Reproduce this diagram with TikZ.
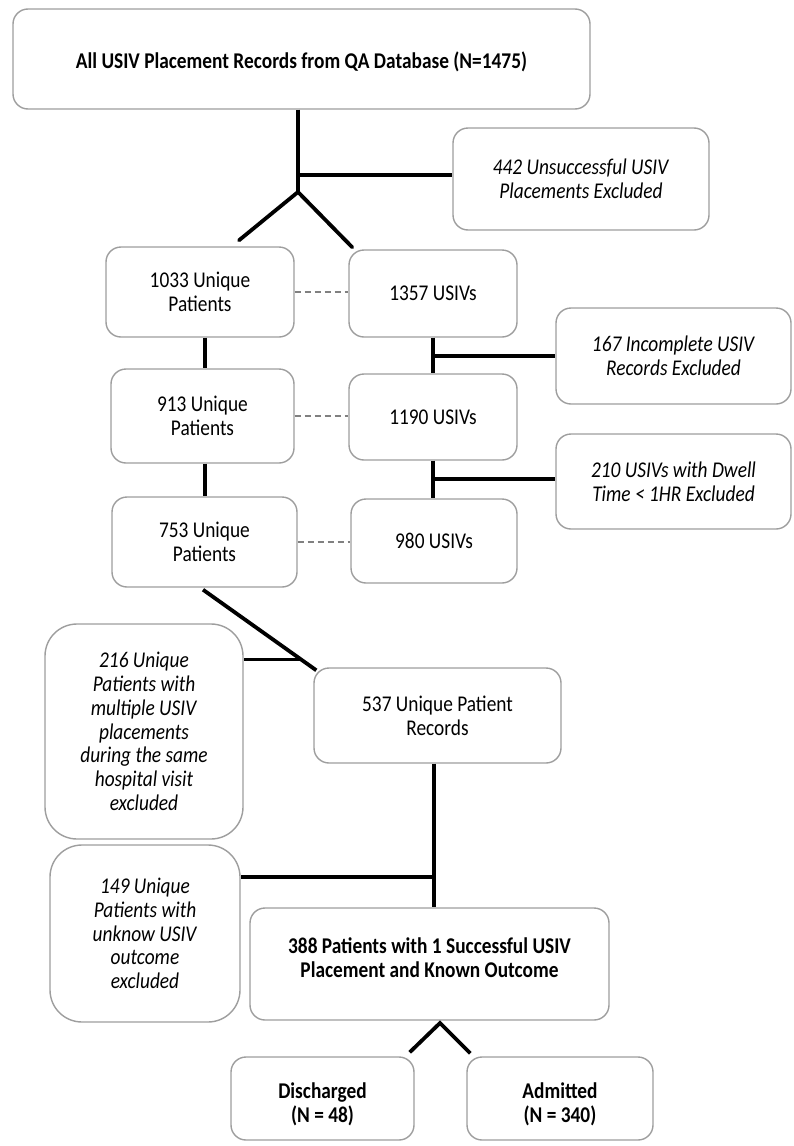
\documentclass[tikz,border=0pt]{standalone}
\usepackage{fontspec}
\setmainfont{Carlito}[FakeStretch=0.86]
\usetikzlibrary{calc}
\tikzset{
  box/.style={draw=black!38, line width=1.4pt, fill=white, rounded corners=15pt,
    align=center, inner sep=0pt, font=\fontsize{22.5}{23.8}\selectfont},
  bigbox/.style={box, rounded corners=32pt},
  txt/.style={align=center, inner sep=0pt, font=\fontsize{22.5}{23.8}\selectfont},
  conn/.style={line width=3.8pt, line cap=butt},
  link/.style={draw=black!50, line width=1.3pt, dash pattern=on 6pt off 4pt}
}
\begin{document}
\begin{tikzpicture}[x=1pt,y=-1pt]
\useasboundingbox (0,0) rectangle (793,1146);
% boxes
\node[box, minimum width=577pt, minimum height=100pt] (top) at (301.5,59) {};
\node[txt] (topt) at (301.5,62) {\textbf{All USIV Placement Records from QA Database (N=1475)}};
\node[box, minimum width=256pt, minimum height=102pt] (ex1) at (581,179) {\textit{442 Unsuccessful USIV}\\\textit{Placements Excluded}};
\node[box, minimum width=188pt, minimum height=90pt] (p1033) at (200,292) {1033 Unique\\Patients};
\node[box, minimum width=168pt, minimum height=87pt] (u1357) at (433,293.5) {1357 USIVs};
\node[box, minimum width=235pt, minimum height=96pt] (ex2) at (673.5,356) {\textit{167 Incomplete USIV}\\\textit{Records Excluded}};
\node[box, minimum width=183pt, minimum height=94pt] (p913) at (202.5,416) {913 Unique\\Patients};
\node[box, minimum width=168pt, minimum height=86pt] (u1190) at (433,417) {1190 USIVs};
\node[box, minimum width=235pt, minimum height=95pt] (ex3) at (673.5,481.5) {\textit{210 USIVs with Dwell}\\\textit{Time < 1HR Excluded}};
\node[box, minimum width=185pt, minimum height=90pt] (p753) at (204.5,542) {753 Unique\\Patients};
\node[box, minimum width=166pt, minimum height=84pt] (u980) at (434,541) {980 USIVs};
\node[bigbox, minimum width=198pt, minimum height=215pt] (ex4) at (144,731.5) {\textit{216 Unique}\\\textit{Patients with}\\\textit{multiple USIV}\\\textit{placements}\\\textit{during the same}\\\textit{hospital visit}\\\textit{excluded}};
\node[box, minimum width=247pt, minimum height=95pt] (r537) at (437.5,715.5) {537 Unique Patient\\Records};
\node[bigbox, minimum width=190pt, minimum height=177pt] (ex5) at (145,933.5) {\textit{149 Unique}\\\textit{Patients with}\\\textit{unknow USIV}\\\textit{outcome}\\\textit{excluded}};
\node[box, minimum width=359pt, minimum height=112pt] (f388) at (429.5,964) {};
\node[txt] (f388t) at (429.5,958) {\textbf{388 Patients with 1 Successful USIV}\\\textbf{Placement and Known Outcome}};
\node[box, minimum width=183pt, minimum height=83pt] (dis) at (322.5,1098.5) {};
\node[txt] (dist) at (322.5,1104) {\textbf{Discharged}\\\textbf{(N = 48)}};
\node[box, minimum width=186pt, minimum height=83pt] (adm) at (560,1098.5) {};
\node[txt] (admt) at (560,1104) {\textbf{Admitted}\\\textbf{(N = 340)}};
% top fork
\coordinate (f1) at (298,192);
\coordinate (j1) at (298,175);
\draw[conn] (top.south -| f1) -- (f1);
\draw[conn] (j1) -- (j1 -| ex1.west);
\draw[conn, line cap=round] (f1) -- ($(p1033.north)+(39,-6)$);
\draw[conn, line cap=round] (f1) -- ($(u1357.north west)+(4,-2)$);
% dashed links
\draw[link] (p1033.east) -- (p1033.east -| u1357.west);
\draw[link] (p913.east) -- (p913.east -| u1190.west);
\draw[link] (p753.east) -- (p753.east -| u980.west);
% left column
\coordinate (lc1) at ($(p1033.south)+(5,0)$);
\draw[conn] (lc1) -- (lc1 |- p913.north);
\coordinate (lc2) at ($(p913.south)+(2.5,0)$);
\draw[conn] (lc2) -- (lc2 |- p753.north);
% right column
\draw[conn] (u1357.south) -- (u1190.north);
\coordinate (j2) at (433,356);
\draw[conn] (j2) -- (j2 -| ex2.west);
\draw[conn] (u1190.south) -- (u1190.south |- u980.north);
\coordinate (j3) at (433,479);
\draw[conn] (j3) -- (j3 -| ex3.west);
% diagonal to 537
\coordinate (d1) at ($(p753.south)+(-1.5,2)$);
\coordinate (d2) at ($(r537.north west)+(3,3)$);
\draw[conn] (d1) -- (d2);
\coordinate (j4) at ($(d1)!0.866!(d2)$);
\draw[conn] (j4) -- (j4 -| ex4.east);
% 537 to 388
\coordinate (v1) at ($(r537.south)+(-3.5,0)$);
\draw[conn] (v1) -- (v1 |- f388.north);
\coordinate (j5) at (434,877);
\draw[conn] (j5) -- (j5 -| ex5.east);
% bottom fork
\coordinate (f2) at (440,1023);
\draw[conn] ($(dis.north east)+(-5,-4)$) -- (f2) -- ($(adm.north west)+(4,-3)$);
\end{tikzpicture}
\end{document}
